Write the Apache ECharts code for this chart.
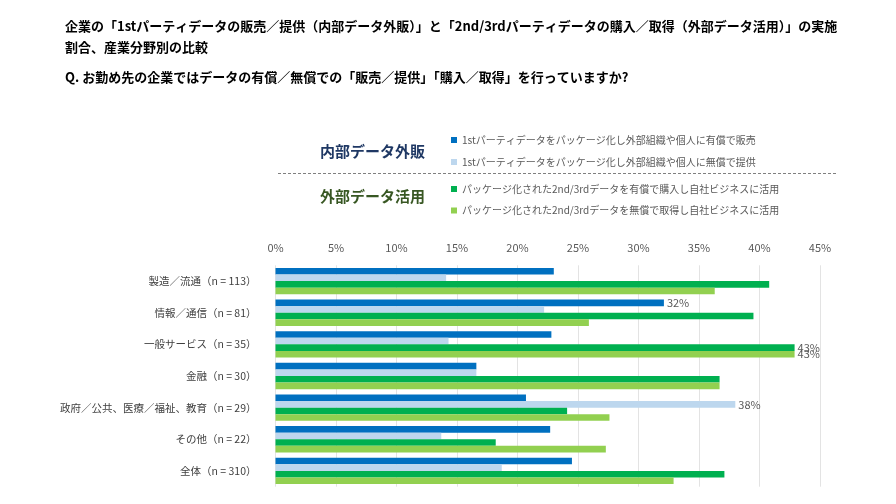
<!DOCTYPE html>
<html>
<head>
<meta charset="utf-8">
<script src="https://cdn.jsdelivr.net/npm/echarts@6/dist/echarts.min.js"></script>
<style>
html,body{margin:0;padding:0;background:#fff;}
#c{width:896px;height:504px;}
</style>
</head>
<body>
<div id="c"></div>
<script>
var titleLine1 = '企業の「1stパーティデータの販売／提供（内部データ外販）」と「2nd/3rdパーティデータの購入／取得（外部データ活用）」の実施';
var titleLine2 = '割合、産業分野別の比較';
var questionText = 'Q. お勤め先の企業ではデータの有償／無償での「販売／提供」「購入／取得」を行っていますか?';
var groupLabels = ['内部データ外販', '外部データ活用'];

var categories = ['製造／流通（n = 113）', '情報／通信（n = 81）', '一般サービス（n = 35）', '金融（n = 30）', '政府／公共、医療／福祉、教育（n = 29）', 'その他（n = 22）', '全体（n = 310）'];
var seriesNames = [
  '1stパーティデータをパッケージ化し外部組織や個人に有償で販売',
  '1stパーティデータをパッケージ化し外部組織や個人に無償で提供',
  'パッケージ化された2nd/3rdデータを有償で購入し自社ビジネスに活用',
  'パッケージ化された2nd/3rdデータを無償で取得し自社ビジネスに活用'
];
var paidSell   = [23.0, 32.1, 22.8, 16.6, 20.7, 22.7, 24.5];
var freeSell   = [14.1, 22.2, 14.3, 16.6, 38.0, 13.7, 18.7];
var paidBuy    = [40.8, 39.5, 42.9, 36.7, 24.1, 18.2, 37.1];
var freeBuy    = [36.3, 25.9, 42.9, 36.7, 27.6, 27.3, 32.9];
var xTicks = [0, 5, 10, 15, 20, 25, 30, 35, 40, 45];

var colors = ['#0070C0', '#BDD7EE', '#00B050', '#92D050'];
var allValues = [paidSell, freeSell, paidBuy, freeBuy];
var FONT = '"Noto Sans CJK JP", "Noto Sans", sans-serif';

function buildData(arr) {
  var mx = Math.max.apply(null, arr);
  return arr.map(function (v) {
    if (v === mx) {
      return { value: v, label: { show: true } };
    }
    return v;
  });
}

var series = allValues.map(function (arr, i) {
  return {
    name: seriesNames[i],
    type: 'bar',
    data: buildData(arr),
    barWidth: 6.6,
    barGap: '0%',
    itemStyle: { color: colors[i] },
    label: {
      show: false,
      position: 'right',
      distance: 3,
      color: '#595959',
      fontSize: 11,
      fontFamily: FONT,
      formatter: function (p) { return Math.round(p.value) + '%'; }
    },
    emphasis: { disabled: true }
  };
});

var chart = echarts.init(document.getElementById('c'), null, { renderer: 'canvas' });
chart.setOption({
  animation: false,
  backgroundColor: '#ffffff',
  textStyle: { fontFamily: FONT },
  title: [
    { text: titleLine1, left: 60, top: 15, textStyle: { fontSize: 13, fontWeight: 'bold', color: '#000', fontFamily: FONT } },
    { text: titleLine2, left: 60, top: 36, textStyle: { fontSize: 13, fontWeight: 'bold', color: '#000', fontFamily: FONT } },
    { text: questionText, left: 60, top: 66, textStyle: { fontSize: 13, fontWeight: 'bold', color: '#000', fontFamily: FONT } }
  ],
  legend: [
    {
      data: [seriesNames[0], seriesNames[1]],
      orient: 'vertical', left: 446, top: 129,
      itemWidth: 6, itemHeight: 6, itemGap: 10, icon: 'rect',
      textStyle: { fontSize: 10, color: '#595959', lineHeight: 12, fontFamily: FONT },
      selectedMode: false
    },
    {
      data: [seriesNames[2], seriesNames[3]],
      orient: 'vertical', left: 446, top: 178,
      itemWidth: 6, itemHeight: 6, itemGap: 9.5, icon: 'rect',
      textStyle: { fontSize: 10, color: '#595959', lineHeight: 12, fontFamily: FONT },
      selectedMode: false
    }
  ],
  graphic: [
    { type: 'text', left: 320, top: 144, style: { text: groupLabels[0], font: 'bold 15px ' + FONT, fill: '#1F3864' } },
    { type: 'text', left: 320, top: 189, style: { text: groupLabels[1], font: 'bold 15px ' + FONT, fill: '#385723' } },
    { type: 'line', shape: { x1: 278, y1: 173.5, x2: 836, y2: 173.5 }, style: { stroke: '#7F7F7F', lineWidth: 1, lineDash: [3, 2] } }
  ],
  grid: { left: 275.5, right: 76, top: 265.3, bottom: 17.3, containLabel: false },
  xAxis: {
    type: 'value', position: 'top', min: xTicks[0], max: xTicks[xTicks.length - 1], interval: 5,
    axisLine: { show: false }, axisTick: { show: false },
    axisLabel: { formatter: '{value}%', color: '#595959', fontSize: 11, margin: 12, fontFamily: FONT },
    splitLine: { show: true, lineStyle: { color: '#E3E3E3', width: 1 } }
  },
  yAxis: {
    type: 'category', data: categories, inverse: true,
    axisLine: { show: false }, axisTick: { show: false },
    axisLabel: { color: '#404040', fontSize: 10.5, margin: 19, fontFamily: FONT }
  },
  series: series
});
</script>
</body>
</html>
